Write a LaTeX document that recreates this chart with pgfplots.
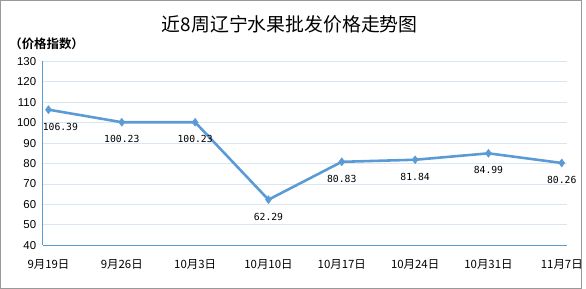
\documentclass[border=0pt]{standalone}
\usepackage{pgfplots}
\pgfplotsset{compat=1.18}
\usepackage{fontspec}
\setmainfont{Liberation Sans}
\newfontfamily\cjk{Noto Sans CJK SC}
\newfontfamily\cjkb{Noto Sans CJK SC Bold}
\newfontfamily\monof{DejaVu Sans Mono}
\definecolor{lineblue}{RGB}{91,155,213}
\definecolor{gridblue}{RGB}{217,230,242}
\begin{document}
\begin{tikzpicture}[x=1pt,y=1pt]
\draw[gray!80, line width=0.8pt] (0.5,0.5) rectangle (585.5,290.5);
\node[font=\cjk\fontsize{19}{19}\selectfont] at (292,266) {近8周辽宁水果批发价格走势图};
\node[font=\cjkb\fontsize{12.5}{12.5}\selectfont, anchor=west] at (6,247) {（价格指数）};
\begin{axis}[
  at={(43pt,44pt)}, anchor=south west,
  scale only axis, width=528pt, height=185pt,
  xmin=-0.08, xmax=7.07, ymin=40, ymax=130,
  ytick={40,50,...,130},
  xtick={0,...,7},
  xticklabels={9月19日,9月26日,10月3日,10月10日,10月17日,10月24日,10月31日,11月7日},
  x tick label style={font=\cjk\fontsize{11.5}{12}\selectfont, yshift=-11pt},
  y tick label style={font=\fontsize{11.5}{12}\selectfont, xshift=-3pt},
  /pgf/number format/assume math mode=true,
  major tick length=0pt,
  ymajorgrids, grid style={gridblue, line width=0.8pt},
  axis x line*=bottom, axis y line*=left,
  axis line style={lineblue, line width=0.8pt},
  axis line style={-},
  clip=false,
  nodes near coords,
  point meta=explicit symbolic,
  every node near coord/.append style={font=\monof\fontsize{9.8}{10}\selectfont, anchor=center, yshift=-17pt, text=black},
]
\addplot[lineblue, line width=2.6pt, mark=diamond*, mark size=4pt, mark options={line width=0.5pt}] table[meta=l] {
x y l
0 106.39 {}
1 100.23 100.23
2 100.23 100.23
3 62.29 62.29
4 80.83 80.83
5 81.84 81.84
6 84.99 84.99
7 80.26 80.26
};
\addplot[only marks, mark=none, nodes near coords, every node near coord/.append style={xshift=12pt}] table[meta=l] {
x y l
0 106.39 106.39
};
\end{axis}
\end{tikzpicture}
\end{document}
